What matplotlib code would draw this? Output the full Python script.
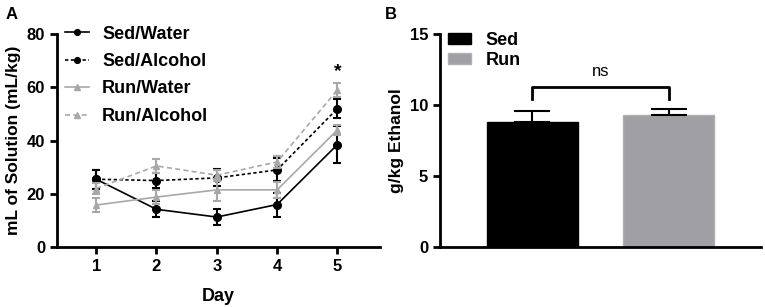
import matplotlib
matplotlib.use("Agg")
import matplotlib.pyplot as plt
import numpy as np

plt.rcParams['font.family'] = ['Liberation Sans', 'DejaVu Sans']
plt.rcParams['font.weight'] = 'bold'

# panel A data
days = [1, 2, 3, 4, 5]
sed_water = [25.5, 14.2, 11.3, 16.0, 38.5]
sed_water_err = [3.5, 3.0, 3.0, 4.5, 7.0]
sed_alc = [25.5, 25.0, 26.0, 29.0, 52.0]
sed_alc_err = [3.5, 2.8, 3.2, 4.3, 3.5]
run_water = [15.8, 18.8, 21.5, 21.5, 44.0]
run_water_err = [2.7, 2.5, 4.0, 3.0, 2.0]
run_alc = [22.0, 30.5, 27.0, 32.0, 59.0]
run_alc_err = [2.0, 2.5, 2.0, 2.3, 2.7]

# panel B data
groups = ['Sed', 'Run']
ethanol = [8.8, 9.3]
ethanol_err = [0.78, 0.45]

BLACK = '#000000'
GRAY = '#a8a8a8'
BARGRAY = '#a0a0a4'

fig = plt.figure(figsize=(7.65, 3.07), dpi=100)
axA = fig.add_axes([0.0745, 0.195, 0.4225, 0.694])
axB = fig.add_axes([0.575, 0.195, 0.42, 0.694])

series = [
    ('Sed/Water', sed_water, sed_water_err, BLACK, '-', 'o'),
    ('Sed/Alcohol', sed_alc, sed_alc_err, BLACK, (0, (2, 1.5)), 'o'),
    ('Run/Water', run_water, run_water_err, GRAY, '-', '^'),
    ('Run/Alcohol', run_alc, run_alc_err, GRAY, (0, (3, 2)), '^'),
]
for name, vals, errs, col, ls, mk in series:
    axA.errorbar(days, vals, yerr=errs, fmt='none', ecolor=col,
                 elinewidth=1.5, capsize=3, capthick=1.5)
    axA.plot(days, vals, color=col, linestyle=ls, marker=mk,
             markersize=5.5 if mk == 'o' else 5, linewidth=1.2, label=name)

axA.set_xlim(0.35, 5.71)
axA.set_ylim(0, 80)
axA.set_xticks(days)
axA.set_yticks([0, 20, 40, 60, 80])
axA.set_xlabel('Day', fontsize=13, fontweight='bold', labelpad=10)
axA.set_ylabel('mL of Solution (mL/kg)', fontsize=12.5, fontweight='bold')
axA.text(5, 66, '*', fontsize=14, ha='center', va='center', fontweight='bold')
leg = axA.legend(loc='upper left', frameon=False, fontsize=13, handlelength=1.3,
                 handletextpad=0.75, borderpad=0, borderaxespad=0.0,
                 labelspacing=0.58, markerscale=0.75, bbox_to_anchor=(0.025, 1.04))
for t in leg.get_texts():
    t.set_fontweight('bold')

x = np.arange(len(groups))
axB.bar(x, ethanol, width=0.67, color=[BLACK, BARGRAY], edgecolor=[BLACK, '#b0b0b4'],
        linewidth=1, label=groups)
axB.errorbar(x, ethanol, yerr=[[0, 0], ethanol_err], fmt='none', ecolor=BLACK,
             elinewidth=1.5, capsize=13, capthick=1.5)
axB.plot([0, 0, 1, 1], [10.4, 11.3, 11.3, 10.4], color=BLACK, linewidth=2)
axB.text(0.5, 12.4, 'ns', fontsize=12, ha='center', va='center', fontweight='normal')
axB.set_xlim(-0.68, 1.68)
axB.set_ylim(0, 15)
axB.set_xticks([])
axB.set_yticks([0, 5, 10, 15])
axB.set_ylabel('g/kg Ethanol', fontsize=12.5, fontweight='bold')
legB = axB.legend(loc='upper left', frameon=False, fontsize=13, handlelength=1.3,
                  handleheight=0.55, handletextpad=0.8, borderpad=0,
                  borderaxespad=0.0, labelspacing=0.15,
                  bbox_to_anchor=(0.025, 1.01))
for t in legB.get_texts():
    t.set_fontweight('bold')

for ax in (axA, axB):
    ax.spines['top'].set_visible(False)
    ax.spines['right'].set_visible(False)
    ax.spines['left'].set_linewidth(2)
    ax.spines['bottom'].set_linewidth(2)
    ax.tick_params(width=2, length=5, labelsize=12)
    for lab in ax.get_xticklabels() + ax.get_yticklabels():
        lab.set_fontweight('bold')

fig.text(0.007, 0.977, 'A', fontsize=12, fontweight='bold', va='top')
fig.text(0.503, 0.977, 'B', fontsize=12, fontweight='bold', va='top')

fig.savefig('out.png', dpi=100)
